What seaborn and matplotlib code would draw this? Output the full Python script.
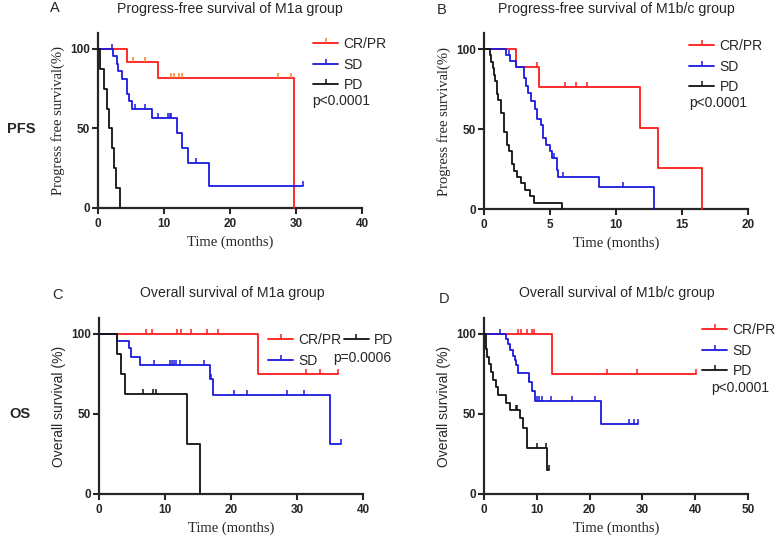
import numpy as np
import pandas as pd
import matplotlib
matplotlib.use('Agg')
import matplotlib.pyplot as plt
from matplotlib.lines import Line2D
import seaborn as sns

# Kaplan-Meier step data (time in months, survival in %), censor times
# Panel A: PFS, M1a
a_cr_t = [0, 4.4, 9.1, 29.7]
a_cr_s = [100, 91.7, 81.5, 0]
a_cr_c = [5.3, 7.1, 11.1, 11.5, 12.3, 12.7, 27.2, 29.2]
a_sd_t = [0, 2.3, 2.9, 3.1, 3.7, 4.4, 4.7, 5.2, 8.2, 11.9, 12.8, 13.7, 16.8, 31.1]
a_sd_s = [100, 95.5, 90.5, 86, 81, 71.5, 67, 62, 56.4, 47, 37.5, 28, 14, 14]
a_sd_c = [2.1, 5.6, 7.1, 9.1, 10.6, 10.9, 11.1, 14.8, 31.1]
a_pd_t = [0, 0.3, 0.9, 1.3, 1.7, 2.1, 2.4, 2.8, 3.4]
a_pd_s = [100, 87.5, 75, 62.5, 50, 37.5, 25, 12.5, 0]
a_pd_c = []

# Panel B: PFS, M1b/c
b_cr_t = [0, 2.4, 4.2, 11.85, 13.2, 16.5]
b_cr_s = [100, 88.9, 76.2, 50.8, 25.4, 0]
b_cr_c = [4.0, 6.1, 7.0, 7.8]
b_sd_t = [0, 1.7, 2.0, 2.4, 3.0, 3.15, 3.35, 3.55, 3.85, 4.0, 4.3, 4.45, 4.7,
          5.0, 5.15, 5.5, 5.6, 8.7, 12.85]
b_sd_s = [100, 96.5, 92.5, 89, 82, 77, 72.7, 67.5, 62.3, 56, 52.8, 44.4, 40.3,
          36, 31.9, 24.5, 20.3, 13.5, 0]
b_sd_c = [1.9, 5.3, 6.0, 10.5]
b_pd_t = [0, 0.45, 0.55, 0.65, 0.75, 0.85, 0.95, 1.05, 1.3, 1.5, 1.75, 1.9, 2.1,
          2.3, 2.5, 2.8, 3.1, 3.45, 3.8, 5.9]
b_pd_s = [100, 96, 92, 88, 84, 80, 72, 68, 60, 48, 40, 36, 28,
          24, 20, 16, 12, 8, 4, 0]
b_pd_c = []

# Panel C: OS, M1a
c_cr_t = [0, 24.1, 36.2]
c_cr_s = [100, 75, 75]
c_cr_c = [7.1, 8.0, 11.8, 12.4, 13.9, 16.3, 18.1, 31.4, 33.5, 36.2]
c_sd_t = [0, 2.8, 4.6, 4.9, 6.2, 16.8, 17.3, 35.0, 36.6]
c_sd_s = [100, 95.8, 91, 85.8, 80.8, 72, 62, 31, 31]
c_sd_c = [8.4, 10.7, 11.1, 11.4, 11.6, 12.3, 15.9, 17.0, 20.4, 22.4, 28.5, 31.0, 36.6]
c_pd_t = [0, 2.7, 3.3, 3.9, 13.3, 15.3]
c_pd_s = [100, 87.5, 75, 62.5, 31.3, 0]
c_pd_c = [6.7, 8.2, 8.6]

# Panel D: OS, M1b/c
d_cr_t = [0, 12.9, 40.2]
d_cr_s = [100, 75, 75]
d_cr_c = [6.5, 7.1, 8.1, 9.1, 9.4, 23.3, 29.0, 40.2]
d_sd_t = [0, 4.1, 4.5, 4.9, 5.4, 5.8, 6.1, 6.5, 8.5, 9.0, 9.7, 22.1, 29.2]
d_sd_s = [100, 97, 93.5, 90, 86.5, 83.5, 80.5, 75.5, 70, 64.5, 58, 44, 44]
d_sd_c = [3.0, 8.5, 10.1, 10.4, 11.0, 12.6, 16.7, 21.0, 27.4, 28.5, 29.2]
d_pd_t = [0, 0.3, 0.6, 0.9, 1.4, 1.7, 2.2, 2.7, 4.1, 5.0, 6.9, 7.4, 8.1, 12.0, 12.3]
d_pd_s = [100, 90.5, 85.7, 81, 76.2, 71.4, 66.7, 61.9, 57, 52.4, 47.6, 41, 29, 15, 15]
d_pd_c = [6.0, 6.3, 10.1, 11.8, 12.3]

groups = ['CR/PR', 'SD', 'PD']
colors = ['#ff1a1a', '#1a1adf', '#111111']

W, H = 784, 536
SANS = 'Liberation Sans'
SERIF = 'Liberation Serif'

sns.set_style('ticks')
plt.rcParams['font.family'] = [SANS, 'DejaVu Sans']

fig = plt.figure(figsize=(W / 100, H / 100), dpi=100)


def px_axes(x0, y_top, x1, y_bot):
    return fig.add_axes([x0 / W, 1 - y_bot / H, (x1 - x0) / W, (y_bot - y_top) / H])


def km(ax, t, s, cens, color, cens_color=None):
    df = pd.DataFrame({'t': t, 's': s})
    sns.lineplot(data=df, x='t', y='s', drawstyle='steps-post', color=color,
                 lw=1.3, estimator=None, ax=ax, clip_on=False, zorder=3)
    t = np.asarray(t)
    s = np.asarray(s)
    if len(cens):
        idx = np.searchsorted(t, cens, side='right') - 1
        ax.plot(cens, s[idx], ls='none', marker=2, ms=3.5, mew=1.1,
                color=cens_color or color, clip_on=False, zorder=4)


def style_axes(ax, xmax, xstep, ylabel, ylabel_font):
    ax.set_xlim(0, xmax)
    ax.set_ylim(0, 110)
    ax.set_xticks(np.arange(0, xmax + 0.1, xstep))
    ax.set_yticks([0, 50, 100])
    sns.despine(ax=ax)
    for sp in ['left', 'bottom']:
        ax.spines[sp].set_linewidth(1.6)
    ax.tick_params(axis='both', length=4, width=1.5, labelsize=8.5)
    ax.tick_params(axis='y', pad=1.5)
    ax.tick_params(axis='x', pad=3)
    for lab in ax.get_xticklabels() + ax.get_yticklabels():
        lab.set_fontweight('bold')
    ax.set_xlabel('Time (months)', family=SERIF, fontsize=10.5)
    ax.set_ylabel(ylabel, family=ylabel_font,
                  fontsize=10.5 if ylabel_font == SERIF else 10)


def add_legend(ax, x, y, ncol=1, cens_colors=None):
    cens_colors = cens_colors or colors
    handles = [Line2D([0], [0], color=c, lw=1.3, marker=2, ms=3.5, mew=1.1,
                      markeredgecolor=mc)
               for c, mc in zip(colors, cens_colors)]
    ax.legend(handles, groups, loc='upper left', ncol=ncol,
              bbox_to_anchor=(x / W, 1 - y / H), bbox_transform=fig.transFigure,
              frameon=False, prop={'family': SANS, 'size': 10}, borderpad=0,
              borderaxespad=0, handlelength=1.8, handletextpad=0.4,
              labelspacing=0.48, columnspacing=0.15)


panels = [
    dict(box=(98, 33, 362, 208), xmax=40, xstep=10,
         ylabel='Progress free survival(%)', yfont=SERIF,
         data=[(a_cr_t, a_cr_s, a_cr_c), (a_sd_t, a_sd_s, a_sd_c), (a_pd_t, a_pd_s, a_pd_c)],
         cens=['#ff7a1a', colors[1], colors[2]],
         letter='A', lxy=(50, 8), title='Progress-free survival of M1a group', txy=(230, 9),
         leg=(313, 37), ncol=1, p='p<0.0001', pxy=(312, 101)),
    dict(box=(484, 33, 748, 209), xmax=20, xstep=5,
         ylabel='Progress free survival(%)', yfont=SERIF,
         data=[(b_cr_t, b_cr_s, b_cr_c), (b_sd_t, b_sd_s, b_sd_c), (b_pd_t, b_pd_s, b_pd_c)],
         cens=colors,
         letter='B', lxy=(437, 10), title='Progress-free survival of M1b/c group', txy=(616, 9),
         leg=(689, 39), ncol=1, p='p<0.0001', pxy=(689, 103)),
    dict(box=(99, 318, 363, 494), xmax=40, xstep=10,
         ylabel='Overall survival (%)', yfont=SANS,
         data=[(c_cr_t, c_cr_s, c_cr_c), (c_sd_t, c_sd_s, c_sd_c), (c_pd_t, c_pd_s, c_pd_c)],
         cens=colors,
         letter='C', lxy=(52, 295), title='Overall survival of M1a group', txy=(232, 293),
         leg=(268, 333), ncol=2, p='p=0.0006', pxy=(333, 358)),
    dict(box=(484, 318, 748, 494), xmax=50, xstep=10,
         ylabel='Overall survival (%)', yfont=SANS,
         data=[(d_cr_t, d_cr_s, d_cr_c), (d_sd_t, d_sd_s, d_sd_c), (d_pd_t, d_pd_s, d_pd_c)],
         cens=colors,
         letter='D', lxy=(439, 299), title='Overall survival of M1b/c group', txy=(617, 293),
         leg=(702, 323), ncol=1, p='p<0.0001', pxy=(711, 388)),
]

for p in panels:
    ax = px_axes(*p['box'])
    for (t, s, c), col, cc in zip(p['data'], colors, p['cens']):
        km(ax, t, s, c, col, cc)
    style_axes(ax, p['xmax'], p['xstep'], p['ylabel'], p['yfont'])
    add_legend(ax, *p['leg'], ncol=p['ncol'], cens_colors=p['cens'])
    fig.text(p['lxy'][0] / W, 1 - p['lxy'][1] / H, p['letter'], family=SANS,
             fontsize=10.5, ha='left', va='center')
    fig.text(p['txy'][0] / W, 1 - p['txy'][1] / H, p['title'], family=SANS,
             fontsize=10.2, ha='center', va='center')
    fig.text(p['pxy'][0] / W, 1 - p['pxy'][1] / H, p['p'], family=SANS,
             fontsize=10, ha='left', va='center')

fig.text(7 / W, 1 - 129 / H, 'PFS', family=SANS, fontsize=10.5, fontweight='bold',
         ha='left', va='center')
fig.text(9 / W, 1 - 414 / H, 'OS', family=SANS, fontsize=10.5, fontweight='bold',
         ha='left', va='center')

fig.savefig('out.png', dpi=100)
